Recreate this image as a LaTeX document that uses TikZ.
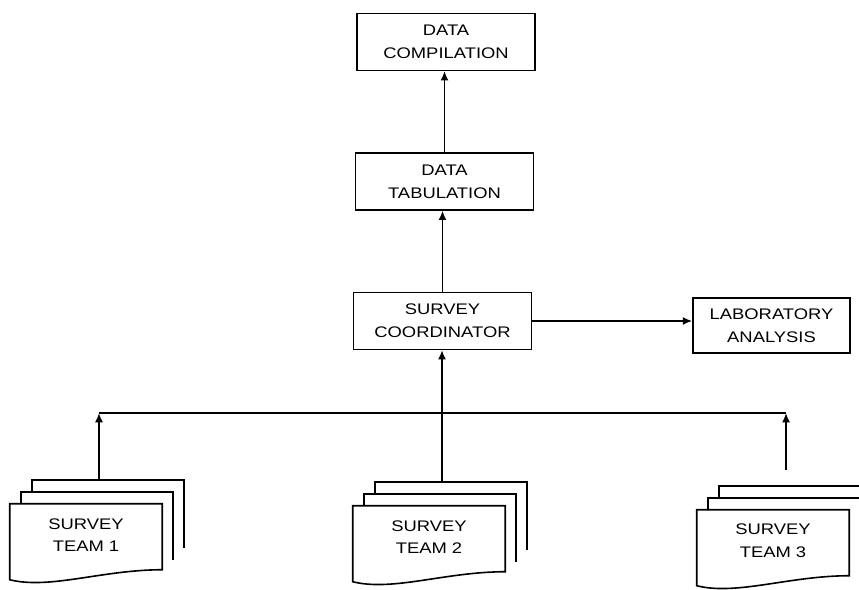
\documentclass[tikz,border=0pt]{standalone}
\usepackage{fontspec}
\setmainfont{Liberation Sans}[FakeStretch=1.2]
\usetikzlibrary{arrows.meta, calc}

\begin{document}
\begin{tikzpicture}[x=0.75pt, y=-0.75pt, font=\fontsize{11.5}{17}\selectfont, >={Latex[length=7pt,width=6pt]},
        box/.style={draw, line width=1.2pt, minimum width=133.5pt, minimum height=42.5pt,
            inner sep=0pt, align=center},
        team/.style={minimum width=114pt, minimum height=46.5pt, inner sep=0pt, align=center},
        sheet/.style={line width=1.2pt, line join=miter},
        flow/.style={->, line width=1.2pt}]
        \useasboundingbox (0,0) rectangle (859,589);
        \node[box] (comp)  at (446,42)    {DATA\\COMPILATION};
        \node[box] (tab)   at (444.5,181.5) {DATA\\TABULATION};
        \node[box] (coord) at (442.5,321) {SURVEY\\COORDINATOR};
        \node[box, minimum width=117.75pt, minimum height=41.25pt] (lab) at (771.5,325.5) {LABORATORY\\ANALYSIS};
        \node[team] (t1) at (86,535)  {SURVEY\\TEAM 1};
        \node[team] (t2) at (429,537) {SURVEY\\TEAM 2};
        \node[team] (t3) at (773,541) {SURVEY\\TEAM 3};
        % stacked sheets
        \foreach \t in {t1,t2,t3} {
            \draw[sheet] ($(\t.north west)+(22,-12)$) -- ++(0,-12) -- ++(152,0) -- ++(0,68);
            \draw[sheet] ($(\t.north west)+(11,0)$) -- ++(0,-12) -- ++(152,0) -- ++(0,68);
            \draw[sheet] (\t.north west) -- (\t.north east) -- ++(0,66)
                .. controls +(-60,0) and +(40,10) .. ($(\t.north west)+(0,76)$) -- cycle;
        }
        \coordinate (busL) at (99,413);
        \coordinate (busR) at (786,413);
        \coordinate (t2top) at ($(t2.north)+(13,-24)$);
        \draw[flow] ($(t1.north)+(13,-24)$) -- (busL);
        \draw[flow] ($(t3.north)+(13,-40)$) -- (busR);
        \draw[line width=1.2pt] (busL) -- (busR);
        \draw[flow] (t2top) -- (t2top |- coord.south);
        \draw[flow] (coord.north) -- (coord.north |- tab.south);
        \draw[flow] (tab.north) -- (tab.north |- comp.south);
        \draw[flow] (coord.east) -- (coord.east -| lab.west);
    \end{tikzpicture}
\end{document}
